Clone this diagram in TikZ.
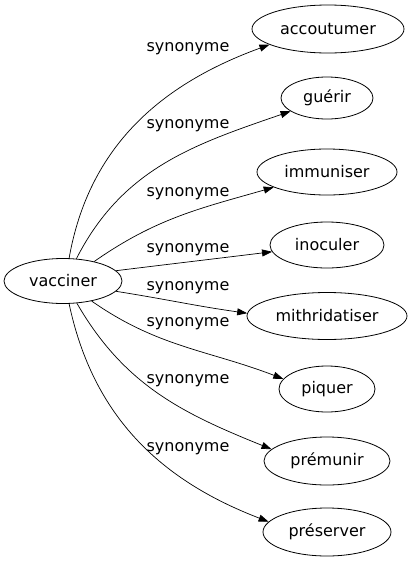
\documentclass[tikz,border=0pt]{standalone}
\usepackage{fontspec}
\setmainfont{DejaVu Sans}
\usetikzlibrary{shapes.geometric,arrows.meta}
\begin{document}
\begin{tikzpicture}[x=1pt,y=-1pt,
  word/.style={draw,ellipse,inner sep=0pt,line width=0.8pt,font=\fontsize{16}{18}\selectfont},
  lbl/.style={inner sep=0pt,font=\fontsize{16}{18}\selectfont},
  syn/.style={draw,line width=0.7pt,-{Triangle[length=10pt,width=7pt]}}]
\useasboundingbox (0,0) rectangle (413,563);
\node[word,minimum width=118pt,minimum height=45pt] (v) at (63,281) {vacciner};
\node[word,minimum width=152pt,minimum height=48pt] (a1) at (328,29) {accoutumer};
\node[word,minimum width=92pt,minimum height=42pt] (a2) at (327,98) {guérir};
\node[word,minimum width=140pt,minimum height=46pt] (a3) at (327,172) {immuniser};
\node[word,minimum width=114pt,minimum height=46pt] (a4) at (327,245) {inoculer};
\node[word,minimum width=160pt,minimum height=47pt] (a5) at (327,316) {mithridatiser};
\node[word,minimum width=96pt,minimum height=46pt] (a6) at (327,389) {piquer};
\node[word,minimum width=126pt,minimum height=48pt] (a7) at (327,461) {prémunir};
\node[word,minimum width=128pt,minimum height=48pt] (a8) at (327,532) {préserver};
\node[lbl] (l1) at (188,49) {synonyme};
\node[lbl] (l2) at (188,126) {synonyme};
\node[lbl] (l3) at (188,194) {synonyme};
\node[lbl] (l4) at (188,250) {synonyme};
\node[lbl] (l5) at (188,288) {synonyme};
\node[lbl] (l6) at (188,324) {synonyme};
\node[lbl] (l7) at (188,381) {synonyme};
\node[lbl] (l8) at (188,449) {synonyme};
\draw[syn] (v.75) to[out=80,in=200] (a1.195);
\draw[syn] (v.59) to[out=63,in=199] (a2.200);
\draw[syn] (v.32) to[out=35,in=196] (a3.196);
\draw[syn] (v.11) to[out=7,in=187] (a4.187);
\draw[syn] (v.-11) to[out=-9,in=172] (a5.178);
\draw[syn] (v.-35) to[out=-35,in=159] (a6.167);
\draw[syn] (v.-58) to[out=-60,in=158] (a7.168);
\draw[syn] (v.-75) to[out=-78,in=159] (a8.170);
\end{tikzpicture}
\end{document}
